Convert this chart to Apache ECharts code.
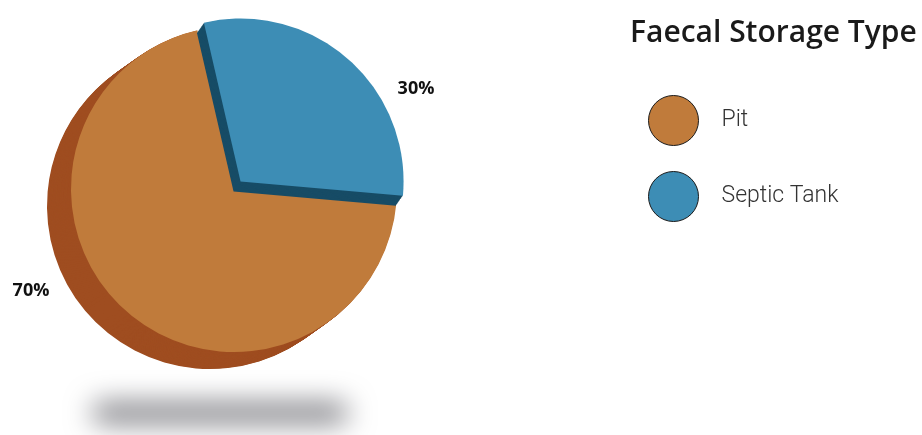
<!DOCTYPE html>
<html>
<head>
<meta charset="utf-8">
<script src="https://cdn.jsdelivr.net/npm/echarts@6/dist/echarts.min.js"></script>
<style>
  html, body { margin: 0; padding: 0; background: #ffffff; }
  #chart { width: 922px; height: 435px; }
</style>
</head>
<body>
<div id="chart"></div>
<script>
// Faecal storage type shares
const categories = ['Pit', 'Septic Tank'];
const shares = [70, 30];
const faceColors = ['#c07b3b', '#3d8db5'];
const sideColors = ['#9f4d20', '#174c66'];

const chart = echarts.init(document.getElementById('chart'));

// Pie geometry and the extrusion used to fake a 3D disc
const CX = 234, CY = 189, R = 163;
const START = -5;
const depth = [
  { dx: -24, dy: 17, steps: 30 },   // Pit side wall
  { dx: -7, dy: 10, steps: 12 }     // Septic Tank side wall
];
const labelPos = [[31, 291], [416, 89]];

function sliceData(colors, visibleIndex, withLabels) {
  return categories.map((name, i) => ({
    name: name,
    value: shares[i],
    selected: !withLabels && i === 1,
    itemStyle: {
      color: (visibleIndex === null || visibleIndex === i) ? colors[i] : 'rgba(0,0,0,0)'
    },
    label: { show: withLabels }
  }));
}

function pieLayer(cx, cy, colors, visibleIndex, z, withLabels) {
  return {
    type: 'pie',
    silent: true,
    z: z,
    center: [cx, cy],
    radius: [0, R],
    startAngle: START,
    clockwise: true,
    selectedMode: 'single',
    selectedOffset: 10,
    animation: false,
    emphasis: { disabled: true },
    itemStyle: { borderWidth: 0 },
    label: withLabels ? {
      show: true,
      position: 'outside',
      formatter: '{d}%',
      fontFamily: '"Open Sans", "Noto Sans", sans-serif',
      fontWeight: 'bold',
      fontSize: 18,
      color: '#111111'
    } : { show: false },
    labelLine: { show: false },
    labelLayout: withLabels ? function (p) {
      const pos = labelPos[p.dataIndex];
      return { x: pos[0], y: pos[1], align: 'center', verticalAlign: 'middle' };
    } : null,
    data: sliceData(colors, visibleIndex, withLabels)
  };
}

const series = [];
let z = 1;
// Pit: side wall then top face
for (let s = depth[0].steps; s >= 1; s--) {
  const t = s / depth[0].steps;
  series.push(pieLayer(CX + depth[0].dx * t, CY + depth[0].dy * t, sideColors, 0, z++, false));
}
series.push(pieLayer(CX, CY, faceColors, 0, z++, false));
// Septic Tank: side wall then top face
for (let s = depth[1].steps; s >= 1; s--) {
  const t = s / depth[1].steps;
  series.push(pieLayer(CX + depth[1].dx * t, CY + depth[1].dy * t, sideColors, 1, z++, false));
}
series.push(pieLayer(CX, CY, faceColors, 1, z++, false));
// Percentage labels
series.push(pieLayer(CX, CY, faceColors, -1, z++, true));

chart.setOption({
  backgroundColor: '#ffffff',
  title: {
    text: 'Faecal Storage Type',
    left: 625,
    top: 13,
    textStyle: {
      fontFamily: '"Open Sans", "Noto Sans", sans-serif',
      fontSize: 30,
      fontWeight: 600,
      color: '#1a1a1a'
    }
  },
  legend: {
    orient: 'vertical',
    left: 643,
    top: 90,
    icon: 'circle',
    itemWidth: 50,
    itemHeight: 50,
    itemGap: 25,
    selectedMode: false,
    textStyle: {
      fontFamily: 'Roboto, "Open Sans", sans-serif',
      fontWeight: 300,
      fontSize: 23,
      color: '#333333',
      padding: [0, 0, 0, 18]
    },
    data: categories.map((name, i) => ({
      name: name,
      itemStyle: { color: faceColors[i], borderColor: '#1a1a1a', borderWidth: 1 }
    }))
  },
  graphic: [{
    // soft floor shadow: the shape sits above the canvas, only its blur lands below the pie
    type: 'rect',
    z: 0,
    shape: { x: 92, y: 403 - 600, width: 256, height: 20, r: 10 },
    style: {
      fill: '#9a9a9a',
      shadowColor: 'rgba(118,118,124,1)',
      shadowBlur: 28,
      shadowOffsetX: 0,
      shadowOffsetY: 600
    },
    silent: true
  }],
  series: series
});
</script>
</body>
</html>
